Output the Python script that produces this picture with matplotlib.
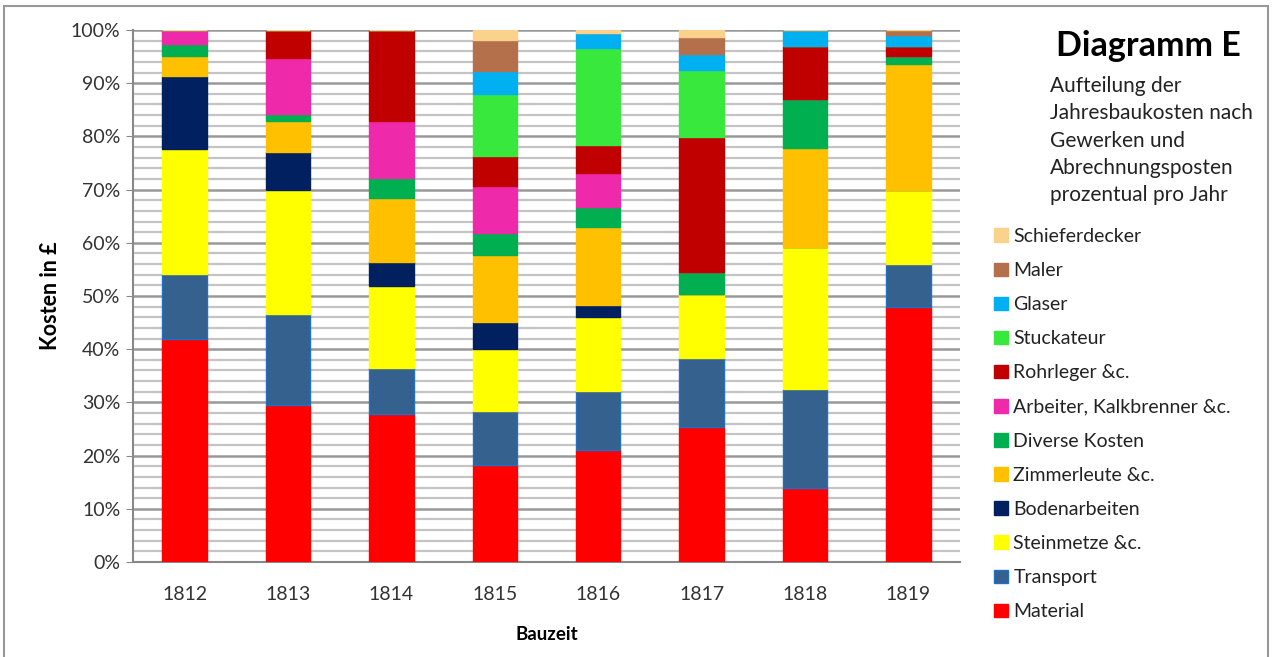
import numpy as np
import matplotlib.pyplot as plt
from matplotlib.patches import Rectangle

plt.rcParams['font.family'] = ['Lato', 'DejaVu Sans']

years = ['1812', '1813', '1814', '1815', '1816', '1817', '1818', '1819']

# Anteile in % pro Jahr (von unten nach oben gestapelt)
material     = [41.9, 29.5, 27.9, 18.2, 21.1, 25.4, 13.9, 47.9]
transport    = [12.2, 17.1, 8.6, 10.1, 11.1, 13.0, 18.6, 8.2]
steinmetze   = [23.5, 23.3, 15.3, 11.8, 13.8, 12.0, 26.7, 13.8]
boden        = [13.8, 7.2, 4.5, 5.1, 2.4, 0.0, 0.0, 0.0]
zimmerleute  = [3.8, 5.8, 12.2, 12.5, 14.6, 0.0, 18.7, 23.8]
diverse      = [2.1, 1.4, 3.6, 4.1, 3.7, 4.2, 9.1, 1.4]
arbeiter     = [2.7, 10.4, 10.8, 8.9, 6.5, 0.0, 0.0, 0.0]
rohrleger    = [0.0, 5.3, 17.1, 5.7, 5.1, 25.3, 10.0, 1.9]
stuckateur   = [0.0, 0.0, 0.0, 11.5, 18.4, 12.5, 0.0, 0.0]
glaser       = [0.0, 0.0, 0.0, 4.4, 2.8, 3.1, 3.0, 2.1]
maler        = [0.0, 0.0, 0.0, 5.8, 0.0, 3.1, 0.0, 0.9]
schiefer     = [0.0, 0.0, 0.0, 1.9, 0.5, 1.4, 0.0, 0.0]

series = [
    ('Material', material, '#FF0000'),
    ('Transport', transport, '#35618F'),
    ('Steinmetze &c.', steinmetze, '#FFFF00'),
    ('Bodenarbeiten', boden, '#002060'),
    ('Zimmerleute &c.', zimmerleute, '#FFC000'),
    ('Diverse Kosten', diverse, '#00B050'),
    ('Arbeiter, Kalkbrenner &c.', arbeiter, '#EE2AAB'),
    ('Rohrleger &c.', rohrleger, '#C00000'),
    ('Stuckateur', stuckateur, '#38E83C'),
    ('Glaser', glaser, '#00B0F0'),
    ('Maler', maler, '#B46F4B'),
    ('Schieferdecker', schiefer, '#FAD28C'),
]

fig = plt.figure(figsize=(12.74, 6.57), dpi=100)
ax = fig.add_axes([133/1274, 1 - 562/657, (960-133)/1274, (562-30)/657])

x = np.arange(len(years))
bottom = np.zeros(len(years))
handles = []
for name, vals, col in series:
    vals = np.array(vals)
    ec = '#1F6FC8' if name == 'Transport' else col
    b = ax.bar(x, vals, 0.43, bottom=bottom, color=col, edgecolor=ec,
               linewidth=1, label=name, zorder=3)
    handles.append(b)
    bottom += vals

ax.set_xlim(-0.5, len(years) - 0.5)
ax.set_ylim(0, 100)
ax.set_yticks(np.arange(0, 101, 10))
ax.set_yticklabels(['%d%%' % v for v in range(0, 101, 10)], fontsize=14, color='#333333')
ax.set_yticks(np.arange(0, 101, 2), minor=True)
ax.set_xticks(x)
ax.set_xticklabels(years, fontsize=14, color='#333333')
ax.tick_params(axis='x', length=0, pad=17)
ax.tick_params(axis='y', which='major', length=5, color='#888888', pad=4)
ax.tick_params(axis='y', which='minor', length=0)
ax.grid(axis='y', which='major', color='#999999', linewidth=1.8, zorder=0)
ax.grid(axis='y', which='minor', color='#C4C4C4', linewidth=1.6, zorder=0)
for s in ['top', 'right']:
    ax.spines[s].set_visible(False)
ax.spines['left'].set_color('#888888')
ax.spines['bottom'].set_color('#888888')
ax.spines['left'].set_linewidth(1.5)
ax.spines['bottom'].set_linewidth(1.5)

ax.set_ylabel('Kosten in £', fontsize=15.5, fontweight='bold', labelpad=7)
ax.set_xlabel('Bauzeit', fontsize=13.5, fontweight='bold', labelpad=17)

fig.text(1148/1274, 1 - 46/657, 'Diagramm E', fontsize=24.5, fontweight='bold',
         ha='center', va='center')
fig.text(1050/1274, 1 - 76/657,
         'Aufteilung der\nJahresbaukosten nach\nGewerken und\nAbrechnungsposten\nprozentual pro Jahr',
         fontsize=15, ha='left', va='top', linespacing=1.46, color='#222222')

fig.legend(handles[::-1], [s[0] for s in series][::-1],
           loc='upper left', bbox_to_anchor=(994/1274, 1 - 228/657),
           frameon=False, fontsize=14, labelspacing=0.88,
           handlelength=0.7, handleheight=0.7, handletextpad=0.3,
           borderpad=0, borderaxespad=0, labelcolor='#222222')

fig.patches.append(Rectangle((0.003, -0.01), 0.992, 1.001, transform=fig.transFigure,
                             fill=False, edgecolor='#999999', linewidth=1.5))

fig.savefig('out.png', dpi=100)
